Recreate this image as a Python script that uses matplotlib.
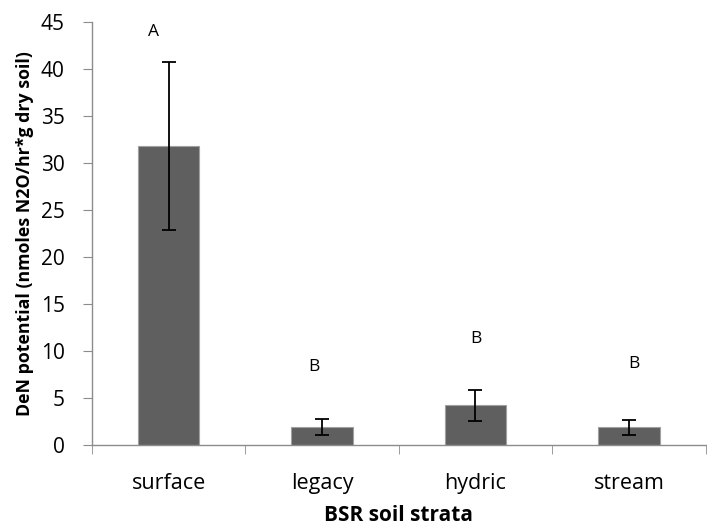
import matplotlib.pyplot as plt

strata = ['surface', 'legacy', 'hydric', 'stream']
den = [31.8, 1.95, 4.2, 1.9]
err = [8.95, 0.85, 1.65, 0.8]
letters = ['A', 'B', 'B', 'B']
letter_y = [43.9, 8.3, 11.3, 8.6]
letter_dx = [-0.1, -0.05, 0.0, 0.03]

plt.rcParams['font.family'] = ['Open Sans', 'DejaVu Sans']

fig = plt.figure(figsize=(7.07, 5.31), dpi=100)
ax = fig.add_axes([0.130, 0.162, 0.868, 0.797])

x = range(len(strata))
ax.bar(x, den, width=0.4, color='#5f5f5f', edgecolor='#a0a0a0', linewidth=0.8,
       yerr=err, error_kw=dict(ecolor='black', elinewidth=1.3, capsize=5, capthick=1.3))

for i in x:
    ax.text(i + letter_dx[i], letter_y[i], letters[i], ha='center', va='center', fontsize=12.5)

ax.set_xlim(-0.5, 3.5)
ax.set_ylim(0, 45)
ax.set_yticks(range(0, 50, 5))
ax.set_xticks(x)
ax.set_xticklabels(strata)
ax.set_xticks([-0.5, 0.5, 1.5, 2.5, 3.5], minor=True)

for s in ['top', 'right']:
    ax.spines[s].set_visible(False)
for s in ['left', 'bottom']:
    ax.spines[s].set_color('#8c8c8c')
    ax.spines[s].set_linewidth(1.0)

ax.tick_params(axis='y', direction='out', length=6.5, color='#8c8c8c', labelsize=15, pad=13)
ax.tick_params(axis='x', which='major', length=0, labelsize=15.5, pad=20)
ax.tick_params(axis='x', which='minor', direction='out', length=6.5, color='#8c8c8c')

ax.set_ylabel('DeN potential (nmoles N2O/hr*g dry soil)', fontsize=12.8, fontweight='bold', labelpad=5)
ax.set_xlabel('BSR soil strata', fontsize=15, fontweight='bold', labelpad=8)

fig.savefig('out.png', dpi=100)
